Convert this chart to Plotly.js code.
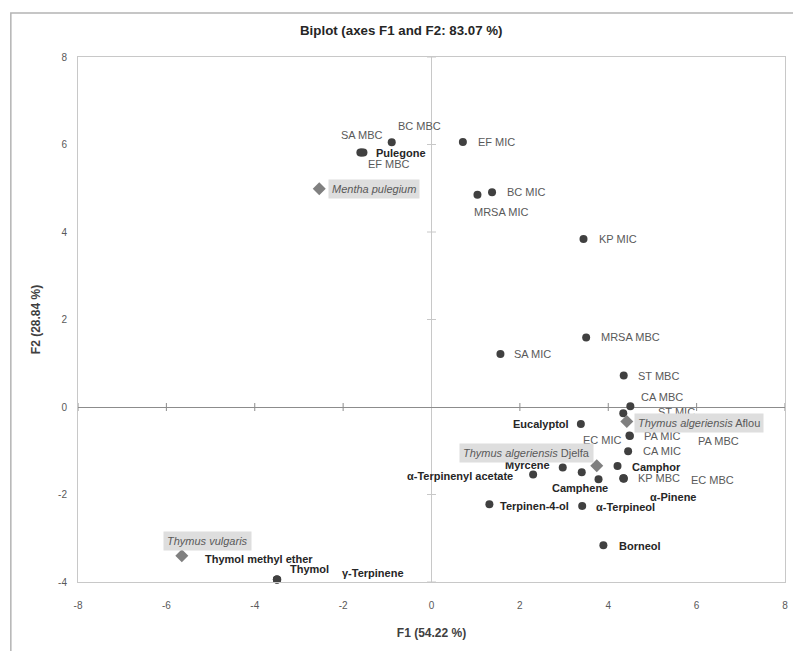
<!DOCTYPE html>
<html>
<head>
<meta charset="utf-8">
<script src="https://cdn.plot.ly/plotly-3.0.1.min.js"></script>
<style>html,body{margin:0;padding:0;background:#fff;}#chart{width:793px;height:651px;}</style>
</head>
<body>
<div id="chart"></div>
<script>
// ---- Data ----
const varNames = [
  "SA MIC","SA MBC","BC MIC","BC MBC","EF MIC","EF MBC","MRSA MIC","MRSA MBC",
  "KP MIC","KP MBC","ST MIC","ST MBC","CA MIC","CA MBC","PA MIC","PA MBC","EC MIC","EC MBC",
  "Pulegone","Eucalyptol","Myrcene","α-Terpinenyl acetate","Camphene","Camphor","α-Pinene",
  "Terpinen-4-ol","α-Terpineol","Borneol","Thymol methyl ether","Thymol","γ-Terpinene"
];
const varX = [
  1.56,-1.61,1.37,-0.90,0.71,-1.58,1.04,3.50,
  3.44,4.34,4.34,4.35,4.45,4.50,4.48,4.49,3.78,4.35,
  -1.54,3.38,2.97,2.30,3.40,4.21,4.35,
  1.31,3.41,3.89,-3.50,-3.50,-3.49
];
const varY = [
  1.21,5.82,4.91,6.05,6.06,5.82,4.85,1.59,
  3.84,-1.63,-0.14,0.72,-1.01,0.02,-0.65,-0.66,-1.65,-1.63,
  5.82,-0.39,-1.38,-1.54,-1.49,-1.35,-1.64,
  -2.22,-2.26,-3.16,-3.94,-3.94,-3.94
];
const obsNames = ["Mentha pulegium","Thymus algeriensis Aflou","Thymus algeriensis Djelfa","Thymus vulgaris"];
const obsLabels = ["<i>Mentha pulegium</i>","<i>Thymus algeriensis</i> Aflou","<i>Thymus algeriensis</i> Djelfa","<i>Thymus vulgaris</i>"];
const obsX = [-2.54, 4.42, 3.74, -5.65];
const obsY = [4.99, -0.33, -1.34, -3.40];
const xTicks = [-8,-6,-4,-2,0,2,4,6,8];
const xTickText = ["-8","-6","-4","-2","0","2","4","6","8"];
const yTicks = [-4,-2,0,2,4,6,8];
const yTickText = ["-4","-2","0","2","4","6","8"];

// ---- Label placement (pixel offsets from each mark, as in the reference) ----
const labelOffsets = {
  "SA MIC":[12,0,"left"],"SA MBC":[-21,-17.5,"left"],"BC MIC":[13,0,"left"],"BC MBC":[4,-16.5,"left"],
  "EF MIC":[13,0,"left"],"EF MBC":[4,11.5,"left"],"MRSA MIC":[-5.5,17.5,"left"],"MRSA MBC":[13,0,"left"],
  "KP MIC":[13,0,"left"],"KP MBC":[13,0,"left"],"ST MIC":[33,-1,"left"],"ST MBC":[12.5,0,"left"],
  "CA MIC":[12.5,0,"left"],"CA MBC":[8.5,-9.5,"left"],"PA MIC":[12.5,0.5,"left"],"PA MBC":[66,5.5,"left"],
  "EC MIC":[-18,-39,"left"],"EC MBC":[65.5,1.5,"left"],
  "Pulegone":[11,1,"left"],"Eucalyptol":[-10,0.3,"right"],"Myrcene":[-11,-2.3,"right"],
  "α-Terpinenyl acetate":[-18,1.4,"right"],"Camphene":[-1.7,16,"center"],"Camphor":[12,0.7,"left"],
  "α-Pinene":[24,18,"left"],"Terpinen-4-ol":[8.4,1.7,"left"],"α-Terpineol":[12,1,"left"],
  "Borneol":[13.4,0.4,"left"],"Thymol methyl ether":[-73.7,-20.5,"left"],"Thymol":[11.3,-10.5,"left"],
  "γ-Terpinene":[62.5,-6,"left"],
  "Mentha pulegium":[9,0,"left"],"Thymus algeriensis Aflou":[7.3,2,"left"],
  "Thymus algeriensis Djelfa":[-2.7,-12.4,"right"],"Thymus vulgaris":[-18.4,-15,"left"]
};

const FONT = "'Liberation Sans', Arial, sans-serif";

const traces = [
  {
    type:"scatter", mode:"markers", x:varX, y:varY, text:varNames, cliponaxis:false,
    marker:{symbol:"circle", size:8, color:"#404040"}, hoverinfo:"text", showlegend:false
  },
  {
    type:"scatter", mode:"markers", x:obsX, y:obsY, text:obsNames, cliponaxis:false,
    marker:{symbol:"diamond", size:10, color:"#808080"}, hoverinfo:"text", showlegend:false
  }
];

const annotations = [];
varNames.forEach((n,i)=>{
  const o = labelOffsets[n];
  const isBact = /MIC|MBC/.test(n);
  annotations.push({
    x:varX[i], y:varY[i], xref:"x", yref:"y", text:isBact? n : "<b>"+n+"</b>",
    showarrow:false, xanchor:o[2], yanchor:"middle", xshift:o[0], yshift:-o[1],
    font:{family:FONT, size:11, color:isBact?"#595959":"#262626"}
  });
});
obsNames.forEach((n,i)=>{
  const o = labelOffsets[n];
  annotations.push({
    x:obsX[i], y:obsY[i], xref:"x", yref:"y", text:obsLabels[i],
    showarrow:false, xanchor:o[2], yanchor:"middle", xshift:o[0], yshift:-o[1],
    bgcolor:"#dedede", borderpad:3,
    font:{family:FONT, size:11, color:"#595959"}
  });
});

const shapes = [];
// tick marks crossing the zero lines (Excel "cross" ticks)
xTicks.forEach(v=>{ if(v!==0) shapes.push({type:"line", xref:"x", yref:"y", x0:v, x1:v,
  ysizemode:"pixel", yanchor:0, y0:-4, y1:4, line:{color:"#8c8c8c", width:1}, layer:"below"}); });
yTicks.forEach(v=>{ if(v!==0) shapes.push({type:"line", xref:"x", yref:"y", y0:v, y1:v,
  xsizemode:"pixel", xanchor:0, x0:-4.5, x1:4.5, line:{color:"#c8c8c8", width:1}, layer:"below"}); });
// outer chart frame
shapes.push({type:"rect", xref:"paper", yref:"paper", x0:-0.095, x1:1.2, y0:-0.4, y1:1.0838,
  line:{color:"#b4b4b4", width:1.5}, fillcolor:"rgba(0,0,0,0)"});

const layout = {
  width:793, height:651,
  margin:{l:78, r:8, t:57, b:69},
  paper_bgcolor:"#ffffff", plot_bgcolor:"#ffffff",
  font:{family:FONT, color:"#595959"},
  title:{text:"<b>Biplot (axes F1 and F2: 83.07 %)</b>", xref:"container", yref:"container",
    x:0.506, y:0.954, xanchor:"center", yanchor:"middle", font:{family:FONT, size:13.3, color:"#262626"}},
  xaxis:{range:[-8,8], tickvals:xTicks, ticktext:xTickText, ticks:"", showgrid:false,
    zeroline:true, zerolinecolor:"#c8c8c8", zerolinewidth:1,
    showline:true, mirror:true, linecolor:"#c8c8c8", linewidth:1,
    tickfont:{size:10, color:"#595959"}, ticklabelstandoff:14,
    title:{text:"<b>F1 (54.22 %)</b>", font:{size:12, color:"#404040"}, standoff:18}},
  yaxis:{range:[-4,8], tickvals:yTicks, ticktext:yTickText, ticks:"", showgrid:false,
    zeroline:true, zerolinecolor:"#8c8c8c", zerolinewidth:1,
    showline:true, mirror:true, linecolor:"#c8c8c8", linewidth:1,
    tickfont:{size:10, color:"#595959"}, ticklabelstandoff:8,
    title:{text:"<b>F2 (28.84 %)</b>", font:{size:12, color:"#404040"}, standoff:14}},
  annotations:annotations,
  shapes:shapes
};

Plotly.newPlot("chart", traces, layout, {staticPlot:true, displayModeBar:false});
</script>
</body>
</html>
